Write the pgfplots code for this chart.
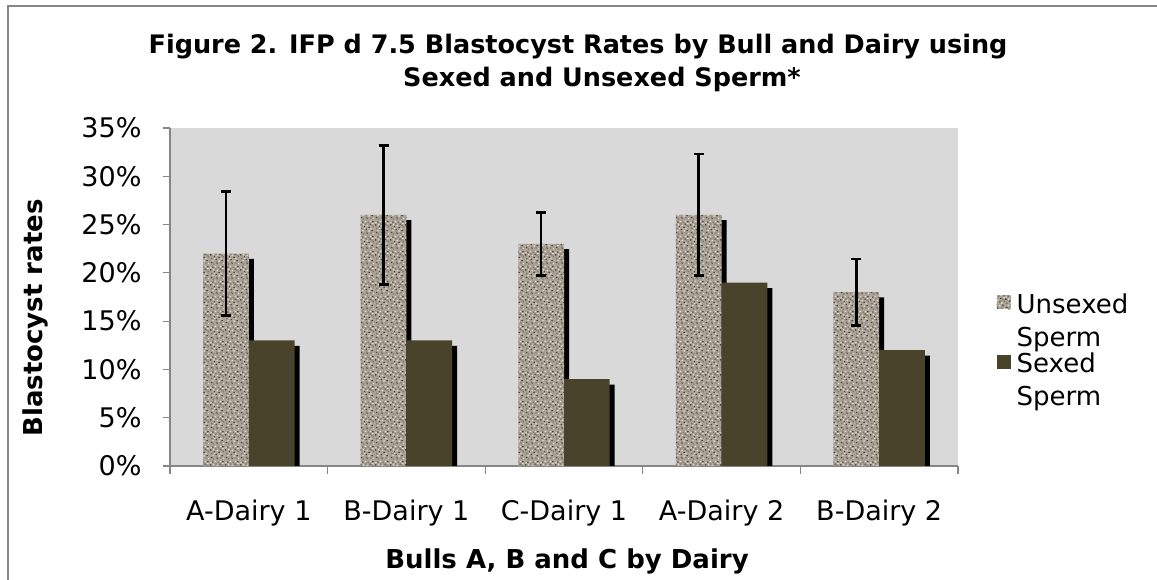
\documentclass[border=0pt]{standalone}
\usepackage{fontspec}
\setmainfont{DejaVu Sans}
\usepackage{pgfplots}
\pgfplotsset{compat=1.18}
\usetikzlibrary{patterns}
\definecolor{plotbg}{HTML}{D9D9D9}
\definecolor{sexed}{HTML}{4A432B}
\definecolor{unsexed}{HTML}{ABA296}
\definecolor{gdark}{HTML}{4A453E}
\definecolor{glight}{HTML}{E3DED6}
\definecolor{gmid}{HTML}{7E766B}
\definecolor{axgray}{HTML}{868686}
\newcommand{\speck}[4]{\pgfpathrectangle{\pgfqpoint{#1pt}{#2pt}}{\pgfqpoint{#3pt}{#4pt}}}
\pgfdeclarepatternformonly{speckdark}{\pgfqpoint{0pt}{0pt}}{\pgfqpoint{15pt}{15pt}}{\pgfqpoint{15pt}{15pt}}{%
  \speck{1}{2}{1.5}{1.2}\speck{7}{1}{1.2}{1.6}\speck{12}{4}{1.6}{1.3}\speck{4}{8}{1.3}{1.5}%
  \speck{10}{11}{1.5}{1.2}\speck{2.5}{13}{1.2}{1.4}\speck{13}{13.5}{1.4}{1.2}\speck{6}{5.2}{1.2}{1.2}%
  \speck{9}{7.5}{1.6}{1.1}\speck{0.2}{10}{1.3}{1.5}%
  \pgfusepath{fill}}
\pgfdeclarepatternformonly{speckmid}{\pgfqpoint{0pt}{0pt}}{\pgfqpoint{15pt}{15pt}}{\pgfqpoint{15pt}{15pt}}{%
  \speck{3}{0.3}{1.5}{1.4}\speck{11}{1.5}{1.3}{1.3}\speck{5.5}{11}{1.6}{1.4}\speck{13.5}{8}{1.3}{1.6}%
  \speck{8}{13}{1.4}{1.3}\speck{1.2}{6}{1.5}{1.5}\speck{12}{9.8}{1.2}{1.4}\speck{6.5}{2.3}{1.4}{1.2}%
  \pgfusepath{fill}}
\pgfdeclarepatternformonly{specklight}{\pgfqpoint{0pt}{0pt}}{\pgfqpoint{15pt}{15pt}}{\pgfqpoint{15pt}{15pt}}{%
  \speck{2.5}{4}{1.4}{1.4}\speck{9}{3.5}{1.5}{1.3}\speck{14}{0.8}{1}{1.4}\speck{5}{13.8}{1.4}{1.2}%
  \speck{11}{6}{1.5}{1.5}\speck{7}{9.3}{1.3}{1.4}\speck{0.3}{12.3}{1.4}{1.3}\speck{13}{11.5}{1.5}{1.3}%
  \speck{3.2}{10.2}{1.2}{1.5}\speck{10.5}{13.8}{1.4}{1.2}\speck{4.5}{6.5}{1.2}{1.2}%
  \pgfusepath{fill}}
\tikzset{granite/.style={fill=unsexed,
  postaction={pattern=speckdark, pattern color=gdark},
  postaction={pattern=speckmid, pattern color=gmid},
  postaction={pattern=specklight, pattern color=glight}}}
\pgfplotsset{sqlegend/.style={legend image code/.code={\path (0pt,-25pt) (18pt,25pt);
    \fill[##1] (0pt,11pt) rectangle (14pt,25pt);}}}
\begin{document}
\begin{tikzpicture}
\useasboundingbox (0pt,0pt) rectangle (1157pt,580pt);
\draw[axgray, line width=2pt] (8pt,-20pt) -- (8pt,574pt) -- (1200pt,574pt);
\node[font=\bfseries\fontsize{25.5}{30}\selectfont] at (578pt,533pt) {Figure 2. IFP d 7.5 Blastocyst Rates by Bull and Dairy using};
\node[font=\bfseries\fontsize{25.5}{30}\selectfont] at (602pt,501pt) {Sexed and Unsexed Sperm*};
\node[rotate=90, font=\bfseries\fontsize{26}{30}\selectfont] at (35pt,262pt) {Blastocyst rates};
\node[font=\bfseries\fontsize{26}{30}\selectfont] at (567pt,19pt) {Bulls A, B and C by Dairy};
\begin{axis}[at={(170pt,114pt)}, anchor=south west, scale only axis,
  width=788pt, height=338pt,
  xmin=-0.5, xmax=4.5, ymin=0, ymax=35,
  axis background/.style={fill=plotbg},
  axis x line*=bottom, axis y line*=left,
  axis line style={axgray, line width=1.5pt},
  ytick={0,5,...,35},
  yticklabel={\pgfmathprintnumber{\tick}\%},
  xtick={0,1,2,3,4},
  xticklabels={A-Dairy 1,B-Dairy 1,C-Dairy 1,A-Dairy 2,B-Dairy 2},
  minor xtick={-0.5,0.5,1.5,2.5,3.5,4.5},
  major x tick style={draw=none},
  tick style={axgray, line width=1.2pt},
  minor tick style={axgray, line width=1.2pt},
  tick align=outside, major tick length=7pt, minor tick length=8pt,
  /pgf/number format/assume math mode=true,
  ticklabel style={font=\fontsize{27}{32}\selectfont},
  yticklabel style={xshift=-18pt},
  xticklabel style={yshift=-23pt},
  legend style={at={(axis description cs:1.045,0.343)}, anchor=west, draw=none, fill=none,
    font=\fontsize{26}{31}\selectfont, cells={align=left, anchor=west}, row sep=1pt},
]
% shadows
\addplot[ybar, bar width=0.29, bar shift=-0.113, fill=black, draw=none, forget plot]
  coordinates {(0,21.45) (1,25.45) (2,22.45) (3,25.45) (4,17.45)};
\addplot[ybar, bar width=0.29, bar shift=-0.145, draw=none, granite, sqlegend]
  coordinates {(0,22) (1,26) (2,23) (3,26) (4,18)};
\addlegendentry{Unsexed\\[2pt]Sperm}
\addplot[ybar, bar width=0.29, bar shift=0.177, fill=black, draw=none, forget plot]
  coordinates {(0,12.43) (1,12.43) (2,8.43) (3,18.43) (4,11.43)};
\addplot[ybar, bar width=0.29, bar shift=0.145, fill=sexed, draw=none, sqlegend]
  coordinates {(0,13) (1,13) (2,9) (3,19) (4,12)};
\addlegendentry{Sexed\\[2pt]Sperm}
% error bars of the unsexed series
\addplot[draw=none, mark=none, forget plot,
  error bars/.cd, y dir=both, y explicit,
  error bar style={draw=black, solid, line width=2.6pt},
  error mark options={rotate=90, mark size=5pt, line width=2.6pt, draw=black}]
  coordinates {(-0.145,22) +- (0,6.4) (0.855,26) +- (0,7.2) (1.855,23) +- (0,3.25) (2.855,26) +- (0,6.3) (3.855,18) +- (0,3.45)};
\end{axis}
\end{tikzpicture}
\end{document}
